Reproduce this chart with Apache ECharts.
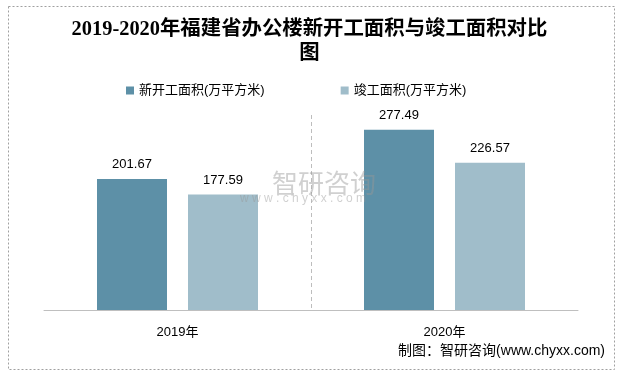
<!DOCTYPE html>
<html><head><meta charset="utf-8">
<script src="https://cdn.jsdelivr.net/npm/echarts@6/dist/echarts.min.js"></script>
<style>html,body{margin:0;padding:0;background:#fff}#c{width:619px;height:374px}</style>
</head><body><div id="c"></div>
<script>
var categories = ['2019年', '2020年'];
var seriesNames = ['新开工面积(万平方米)', '竣工面积(万平方米)'];
var newStart = [201.67, 277.49];
var completed = [177.59, 226.57];

var chart = echarts.init(document.getElementById('c'));
var labelStyle = {show: true, position: 'top', distance: 8, color: '#000', fontSize: 13, fontFamily: 'Liberation Sans, Noto Sans CJK SC'};
chart.setOption({
  animation: false,
  title: {
    text: '2019-2020年福建省办公楼新开工面积与竣工面积对比\n图',
    left: 'center', top: 13,
    textStyle: {fontSize: 20.4, fontWeight: 'bold', color: '#000', fontFamily: 'Liberation Serif, Noto Sans CJK SC', lineHeight: 24}
  },
  legend: {
    top: 79, left: 121, itemWidth: 8, itemHeight: 8, itemGap: 76, icon: 'rect',
    textStyle: {fontSize: 13, color: '#000', fontFamily: 'Liberation Sans, Noto Sans CJK SC'},
    data: seriesNames
  },
  grid: {left: 44, right: 41, top: 115, bottom: 64},
  xAxis: {
    type: 'category', data: categories,
    axisLine: {lineStyle: {color: '#bfbfbf', width: 1}},
    axisTick: {show: false},
    axisLabel: {color: '#000', fontSize: 13, margin: 16, fontFamily: 'Liberation Sans, Noto Sans CJK SC'},
    splitLine: {show: true, lineStyle: {color: ['rgba(0,0,0,0)', '#bdbdbd'], type: [4, 3], width: 1}}
  },
  yAxis: {type: 'value', min: 0, max: 300, show: false, splitLine: {show: false}},
  series: [
    {name: seriesNames[0], type: 'bar', data: newStart, barWidth: 70, barGap: '30%',
     itemStyle: {color: '#5d90a7'}, label: labelStyle},
    {name: seriesNames[1], type: 'bar', data: completed, barWidth: 70,
     itemStyle: {color: '#a0bdca'}, label: labelStyle}
  ],
  graphic: [
    {type: 'rect', left: 6, top: 4, shape: {width: 606, height: 363},
     style: {fill: 'none', stroke: '#a0a0a0', lineWidth: 1, lineDash: [2, 2]}, z: 0},
    {type: 'text', left: 272, top: 170, z: 10,
     style: {text: '智研咨询', fontSize: 26, fill: 'rgba(150,150,150,0.45)', fontFamily: 'Noto Sans CJK SC'}},
    {type: 'text', left: 240, top: 193, z: 10,
     style: {text: 'w w w . c h y x x . c o m', fontSize: 12, fill: 'rgba(150,150,150,0.45)', fontFamily: 'Liberation Sans'}},
    {type: 'text', right: 14, top: 344, z: 10,
     style: {text: '制图：智研咨询(www.chyxx.com)', fontSize: 14, fill: '#000', fontFamily: 'Liberation Sans, Noto Sans CJK SC'}}
  ]
});
</script></body></html>
